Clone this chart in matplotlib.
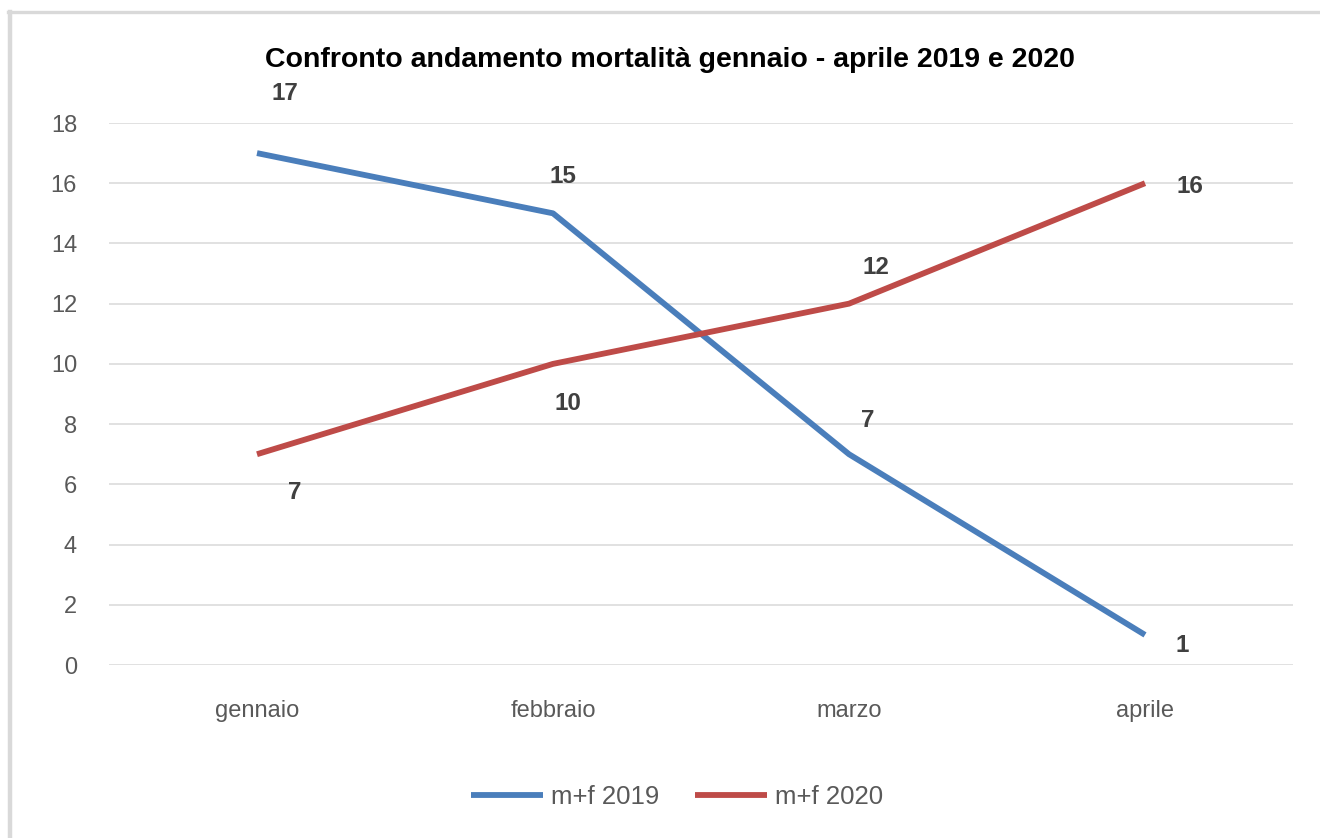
import matplotlib
matplotlib.use("Agg")
import matplotlib.pyplot as plt
from matplotlib.lines import Line2D

months = ["gennaio", "febbraio", "marzo", "aprile"]
mf_2019 = [17, 15, 7, 1]
mf_2020 = [7, 10, 12, 16]
yticks = [0, 2, 4, 6, 8, 10, 12, 14, 16, 18]
title = "Confronto andamento mortalità gennaio - aprile 2019 e 2020"

plt.rcParams['font.family'] = ['Liberation Sans', 'DejaVu Sans']

W, H, DPI = 1320, 838, 100
fig = plt.figure(figsize=(W / DPI, H / DPI), dpi=DPI)
fig.patch.set_facecolor("white")

# outer frame (top and left edges visible)
fig.add_artist(Line2D([10 / W, 10 / W], [0, 1 - 12 / H], transform=fig.transFigure,
                      color="#d9d9d9", lw=3.2))
fig.add_artist(Line2D([8 / W, 1], [1 - 12.5 / H, 1 - 12.5 / H], transform=fig.transFigure,
                      color="#d9d9d9", lw=2.4))

left, right = 109 / W, 1293 / W
bottom, top = 1 - 665 / H, 1 - 123 / H
ax = fig.add_axes([left, bottom, right - left, top - bottom])

x = list(range(len(months)))
blue = "#4a7ebb"
red = "#be4b48"
ax.plot(x, mf_2019, color=blue, lw=4.2, solid_capstyle="butt", label="m+f 2019", zorder=3)
ax.plot(x, mf_2020, color=red, lw=4.2, solid_capstyle="butt", label="m+f 2020", zorder=3)

ax.set_xlim(-0.5, len(months) - 0.5)
ax.set_ylim(0, 18)
ax.set_yticks(yticks)
ax.set_xticks(x)
ax.set_xticklabels(months)
ax.grid(axis="y", color="#d9d9d9", lw=1.1)
ax.set_axisbelow(True)
for s in ax.spines.values():
    s.set_visible(False)
ax.tick_params(axis="both", length=0, labelsize=17, colors="#595959")
ax.tick_params(axis="y", pad=23)
ax.tick_params(axis="x", pad=25)

# data labels (offsets in pixels -> points)
px = 72 / DPI
off_2019 = [(28, 60), (10, 37), (19, 34), (37, -11)]
off_2020 = [(38, -38), (15, -40), (27, 36), (45, -3)]
for xi, v, (dx, dy) in zip(x, mf_2019, off_2019):
    ax.annotate(str(v), (xi, v), xytext=(dx * px, dy * px), textcoords="offset points",
                ha="center", va="center", fontsize=17.5, fontweight="bold",
                color="#404040", annotation_clip=False)
for xi, v, (dx, dy) in zip(x, mf_2020, off_2020):
    ax.annotate(str(v), (xi, v), xytext=(dx * px, dy * px), textcoords="offset points",
                ha="center", va="center", fontsize=17.5, fontweight="bold",
                color="#404040", annotation_clip=False)

fig.text(670 / W, 1 - 60 / H, title, ha="center", va="center", fontsize=20.5,
         fontweight="bold", color="#000000")

leg = fig.legend(loc="center", bbox_to_anchor=(677 / W, 1 - 797 / H), ncol=2, frameon=False,
                 fontsize=18.5, handlelength=2.8, handletextpad=0.3, columnspacing=1.4)
for t in leg.get_texts():
    t.set_color("#595959")

fig.savefig("out.png", dpi=DPI, facecolor="white")
